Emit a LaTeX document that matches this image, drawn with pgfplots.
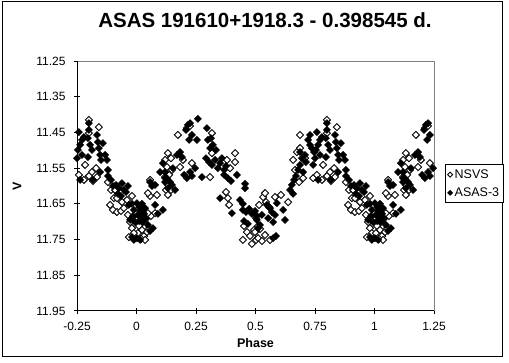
\documentclass[border=0pt]{standalone}
\usepackage{pgfplots}
\pgfplotsset{compat=1.18}
\usepackage{pgfplotstable}
\usepackage{fontspec}
\setmainfont{Liberation Sans}

\pgfplotstableread{
p m
0.002 11.695
0.011 11.712
0.023 11.723
0.006 11.732
0.032 11.740
0.044 11.729
0.053 11.718
0.061 11.684
0.048 11.676
0.019 11.748
0.036 11.751
0.078 11.676
0.086 11.625
0.057 11.628
0.120 11.575
0.132 11.597
0.124 11.611
0.137 11.569
0.132 11.508
0.057 11.583
0.048 11.620
0.120 11.527
0.128 11.547
0.145 11.522
0.149 11.555
0.145 11.611
0.132 11.625
0.174 11.457
0.195 11.527
0.212 11.438
0.225 11.432
0.317 11.452
0.317 11.508
0.380 11.527
0.414 11.508
0.414 11.533
0.393 11.550
0.309 11.575
0.376 11.617
0.384 11.634
0.389 11.653
0.452 11.712
0.464 11.729
0.477 11.740
0.494 11.723
0.502 11.751
0.485 11.762
0.511 11.712
0.447 11.751
0.183 11.547
0.233 11.536
0.498 11.729
0.511 11.746
0.527 11.754
0.540 11.737
0.519 11.720
0.532 11.631
0.544 11.645
0.557 11.659
0.540 11.620
0.561 11.751
0.582 11.631
0.637 11.645
0.658 11.527
0.666 11.555
0.674 11.505
0.687 11.494
0.700 11.578
0.683 11.589
0.687 11.457
0.708 11.522
0.742 11.578
0.758 11.569
0.779 11.583
0.800 11.572
0.817 11.586
0.834 11.575
0.800 11.415
0.800 11.452
0.842 11.435
0.830 11.550
0.607 11.625
0.515 11.653
0.880 11.589
0.893 11.611
0.905 11.634
0.889 11.653
0.901 11.667
0.918 11.673
0.935 11.670
0.947 11.662
0.918 11.634
0.939 11.645
0.960 11.639
0.981 11.628
0.964 11.681
0.973 11.701
0.981 11.718
0.989 11.732
0.968 11.743
0.784 11.541
0.813 11.561
0.910 11.611
}\nsvs

\pgfplotstableread{
p m
0.002 11.648
0.011 11.659
0.015 11.670
0.023 11.650
0.027 11.664
0.006 11.681
0.019 11.687
0.032 11.678
0.040 11.692
0.011 11.698
0.027 11.701
0.036 11.662
0.002 11.746
0.015 11.751
0.048 11.709
0.069 11.718
0.057 11.726
0.078 11.653
0.111 11.667
0.057 11.589
0.065 11.600
0.078 11.597
0.099 11.561
0.111 11.536
0.120 11.578
0.120 11.589
0.090 11.678
0.120 11.561
0.128 11.578
0.141 11.589
0.132 11.606
0.149 11.597
0.162 11.611
0.153 11.550
0.170 11.513
0.183 11.505
0.191 11.519
0.200 11.569
0.212 11.578
0.225 11.561
0.233 11.572
0.208 11.443
0.216 11.429
0.225 11.424
0.233 11.457
0.221 11.471
0.258 11.412
0.254 11.471
0.246 11.550
0.275 11.575
0.296 11.438
0.300 11.471
0.313 11.466
0.321 11.485
0.334 11.499
0.309 11.494
0.292 11.522
0.305 11.533
0.317 11.541
0.330 11.527
0.342 11.550
0.351 11.536
0.368 11.555
0.376 11.544
0.359 11.522
0.368 11.569
0.384 11.578
0.397 11.586
0.422 11.569
0.456 11.594
0.456 11.606
0.351 11.634
0.435 11.639
0.447 11.650
0.401 11.676
0.447 11.667
0.460 11.673
0.473 11.664
0.485 11.678
0.498 11.670
0.506 11.684
0.452 11.698
0.468 11.706
0.502 11.690
0.506 11.695
0.519 11.709
0.511 11.718
0.527 11.681
0.548 11.653
0.561 11.662
0.569 11.673
0.582 11.681
0.553 11.690
0.574 11.701
0.590 11.648
0.574 11.746
0.586 11.740
0.624 11.695
0.616 11.667
0.645 11.611
0.653 11.597
0.662 11.583
0.670 11.572
0.658 11.622
0.679 11.555
0.687 11.541
0.695 11.522
0.708 11.513
0.700 11.561
0.712 11.533
0.687 11.505
0.721 11.471
0.729 11.485
0.737 11.494
0.746 11.505
0.754 11.499
0.763 11.485
0.771 11.471
0.779 11.463
0.750 11.522
0.771 11.513
0.742 11.541
0.763 11.583
0.758 11.449
0.800 11.424
0.800 11.443
0.796 11.466
0.805 11.485
0.813 11.499
0.834 11.457
0.838 11.477
0.842 11.494
0.847 11.513
0.851 11.527
0.868 11.513
0.847 11.561
0.729 11.457
0.796 11.519
0.876 11.527
0.880 11.572
0.893 11.583
0.901 11.600
0.880 11.555
0.914 11.597
0.926 11.606
0.939 11.592
0.947 11.611
0.922 11.622
0.935 11.628
0.956 11.617
0.964 11.600
0.859 11.480
0.817 11.583
0.981 11.650
0.989 11.667
0.985 11.684
0.973 11.695
0.994 11.701
0.981 11.743
0.989 11.751
0.968 11.653
}\asas

\pgfplotsset{
  nsvsstyle/.style={only marks, mark=square*, mark size=2.5pt,
    mark options={rotate=45, fill=white, draw=black, line width=0.9pt}},
  asasstyle/.style={only marks, mark=square*, mark size=2.5pt,
    mark options={rotate=45, fill=black, draw=black, line width=0.5pt}},
}

\begin{document}
\begin{tikzpicture}
\useasboundingbox (0,0) rectangle (509pt,363pt);
\draw[line width=1pt] (2pt,6pt) rectangle (502pt,361pt);
\node[anchor=base, font=\bfseries\fontsize{20.5}{24}\selectfont] at (265pt,335pt) {ASAS 191610+1918.3 - 0.398545 d.};
\begin{axis}[
  at={(77pt,52pt)}, anchor=south west,
  scale only axis, width=357pt, height=250pt,
  xmin=-0.25, xmax=1.25, ymin=11.25, ymax=11.95,
  y dir=reverse,
  clip=false,
  axis line style={draw=none},
  xtick={-0.25,0,0.25,0.5,0.75,1,1.25},
  ytick={11.25,11.35,11.45,11.55,11.65,11.75,11.85,11.95},
  xtick pos=lower, ytick pos=left,
  tick align=center, major tick length=6pt,
  tick style={black, line width=1pt},
  /pgf/number format/assume math mode=true,
  /pgf/number format/fixed,
  yticklabel style={/pgf/number format/fixed zerofill, /pgf/number format/precision=2, xshift=-5pt},
  xticklabel style={yshift=-5pt},
  ticklabel style={font=\fontsize{12}{14}\selectfont},
  xlabel={Phase}, ylabel={V},
  every axis x label/.style={at={(axis description cs:0.5,-0.128)}, anchor=center, font=\bfseries\fontsize{12.5}{14}\selectfont},
  every axis y label/.style={at={(axis description cs:-0.168,0.5)}, anchor=center, rotate=90, font=\bfseries\fontsize{12.5}{14}\selectfont},
  legend style={at={(axis description cs:1.031,0.588)}, anchor=north west, draw=black, line width=1pt,
    font=\fontsize{12.5}{14}\selectfont, inner xsep=2pt, inner ysep=3pt, row sep=4pt},
  legend cell align=left,
  legend image code/.code={\draw[#1, mark size=1.8pt] plot coordinates {(2pt,0pt)};},
]
\draw[gray, line width=1pt] (axis description cs:0,1) -- (axis description cs:1,1) -- (axis description cs:1,0);
\draw[black, line width=1pt] (axis description cs:0,1) -- (axis description cs:0,0) -- (axis description cs:1,0);
\addplot[nsvsstyle, restrict x to domain=-0.25:1.25] table[x=p, y=m] {\nsvs};
\addplot[nsvsstyle, forget plot, restrict x to domain=-0.25:1.25] table[x expr=\thisrow{p}-1, y=m] {\nsvs};
\addplot[nsvsstyle, forget plot, restrict x to domain=-0.25:1.25] table[x expr=\thisrow{p}+1, y=m] {\nsvs};
\addplot[asasstyle, restrict x to domain=-0.25:1.25] table[x=p, y=m] {\asas};
\addplot[asasstyle, forget plot, restrict x to domain=-0.25:1.25] table[x expr=\thisrow{p}-1, y=m] {\asas};
\addplot[asasstyle, forget plot, restrict x to domain=-0.25:1.25] table[x expr=\thisrow{p}+1, y=m] {\asas};
\legend{NSVS, ASAS-3}
\end{axis}
\end{tikzpicture}
\end{document}
